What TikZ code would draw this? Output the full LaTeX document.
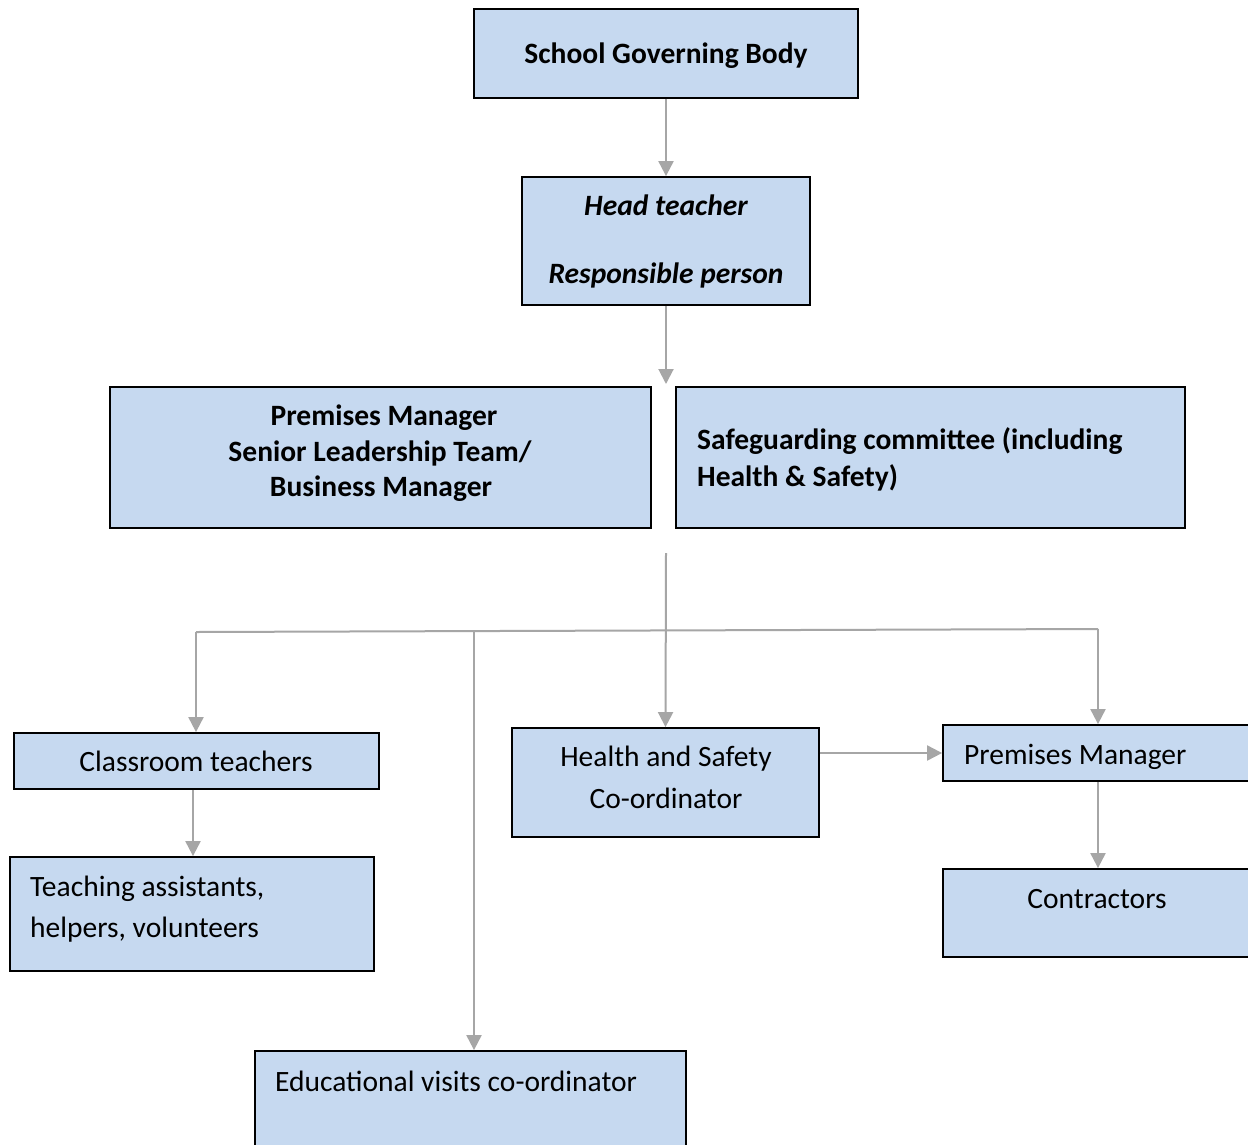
\documentclass[tikz,border=0pt]{standalone}
\usepackage{fontspec}
\setmainfont{Carlito}
\usetikzlibrary{arrows.meta}
\definecolor{boxfill}{HTML}{C6D9F0}
\definecolor{arr}{HTML}{A6A6A6}
\begin{document}
\begin{tikzpicture}[x=1pt,y=-1pt,
  box/.style={draw=black, line width=1.8pt, fill=boxfill, rectangle, inner sep=0pt},
  txt/.style={font=\fontsize{29.5}{36}\selectfont, inner sep=0pt, anchor=base},
  ltxt/.style={txt, anchor=base west},
  btxt/.style={txt, font=\fontsize{29.5}{36}\selectfont\bfseries},
  bltxt/.style={ltxt, font=\fontsize{29.5}{36}\selectfont\bfseries},
  bitxt/.style={txt, font=\fontsize{29.5}{36}\selectfont\bfseries\itshape},
  conn/.style={draw=arr, line width=2pt, -{Triangle[width=15pt,length=15pt]}},
  plain/.style={draw=arr, line width=2pt}]
\clip (0,0) rectangle (1248,1144);
\fill[white] (0,0) rectangle (1248,1144);

% boxes
\node[box, minimum width=384pt, minimum height=89pt] (sgb) at (666,53.5) {};
\node[box, minimum width=288pt, minimum height=128pt] (head) at (666,241) {};
\node[box, minimum width=541pt, minimum height=141pt] (pm1) at (380.5,457.5) {};
\node[box, minimum width=509pt, minimum height=141pt] (safe) at (930.5,457.5) {};
\node[box, minimum width=365pt, minimum height=56pt] (ct) at (196.5,761) {};
\node[box, minimum width=364pt, minimum height=114pt] (ta) at (192,914) {};
\node[box, minimum width=307pt, minimum height=109pt] (hs) at (665.5,782.5) {};
\node[box, minimum width=347pt, minimum height=56pt] (pm2) at (1116.5,753) {};
\node[box, minimum width=347pt, minimum height=88pt] (con) at (1116.5,913) {};
\node[box, minimum width=431pt, minimum height=129pt] (ev) at (470.5,1115.5) {};

% texts
\node[btxt] (t-sgb) at (666,63) {School Governing Body};
\node[bitxt] (t-head1) at (666,215) {Head teacher};
\node[bitxt] (t-head2) at (666,283) {Responsible person};
\node[btxt] (t-pm1a) at (384,425) {Premises Manager};
\node[btxt] (t-pm1b) at (380,461) {Senior Leadership Team/};
\node[btxt] (t-pm1c) at (381,496) {Business Manager};
\node[bltxt] (t-safe1) at (697,449) {Safeguarding committee (including};
\node[bltxt] (t-safe2) at (697,486) {Health \& Safety)};
\node[txt] (t-ct) at (196,771) {Classroom teachers};
\node[ltxt] (t-ta1) at (30,896) {Teaching assistants,};
\node[ltxt] (t-ta2) at (30,937) {helpers, volunteers};
\node[txt] (t-hs1) at (666,766) {Health and Safety};
\node[txt] (t-hs2) at (666,808) {Co-ordinator};
\node[ltxt] (t-pm2) at (964,764) {Premises Manager};
\node[txt] (t-con) at (1097,908) {Contractors};
\node[ltxt] (t-ev) at (275,1091) {Educational visits co-ordinator};

% connectors
\coordinate (hend) at (666,384);
\coordinate (split) at (666,553);
\coordinate (hl) at (196,632);
\coordinate (hr) at (1098,629);
\coordinate (ej) at (474,631);
\coordinate (ctx) at (193,0);

\draw[conn] (sgb.south) -- (head.north);
\draw[conn] (head.south) -- (hend);
\draw[conn] (split) -- (hs.north);
\draw[plain] (hl) -- (hr);
\draw[conn] (hl) -- (hl |- ct.north);
\draw[conn] (hr) -- (hr |- pm2.north);
\draw[conn] (ej) -- (ej |- ev.north);
\draw[conn] (ctx |- ct.south) -- (ctx |- ta.north);
\draw[conn] (hs.east |- pm2.west) -- (pm2.west);
\draw[conn] (hr |- pm2.south) -- (hr |- con.north);
\end{tikzpicture}
\end{document}
